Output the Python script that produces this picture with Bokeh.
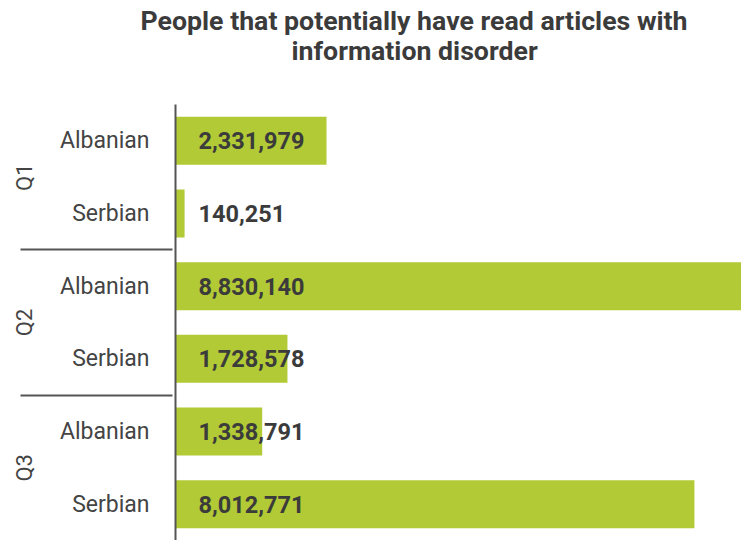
from bokeh.plotting import figure
from bokeh.models import FactorRange, Range1d, ColumnDataSource, Title
from bokeh.core.properties import value
from bokeh.embed import file_html
from bokeh.resources import INLINE

quarters = ["Q1", "Q1", "Q2", "Q2", "Q3", "Q3"]
languages = ["Albanian", "Serbian", "Albanian", "Serbian", "Albanian", "Serbian"]
people = [2331979, 140251, 8830140, 1728578, 1338791, 8012771]
title_lines = ["People that potentially have read articles with", "information disorder"]

TEXT = "#444444"
BAR = "#b1ca36"
LINE = "#555555"

factors = list(zip(quarters, languages))
labels = [f"{v:,}" for v in people]
src = ColumnDataSource(dict(y=factors, v=people, lab=labels, zero=[0] * len(people)))

yr = FactorRange(*reversed(factors), range_padding=0, group_padding=0, factor_padding=0)
p = figure(width=741, height=540, y_range=yr, x_range=Range1d(0, 8.74e6),
           output_backend="svg", toolbar_location=None,
           min_border_top=104, min_border_bottom=0, min_border_right=0, min_border_left=175)
p.title = None
p.hbar(y="y", right="v", left=0, height=0.66, source=src, color=BAR, line_color=None)
p.text(x="zero", y="y", text="lab", source=src, x_offset=23, text_align="left",
       text_baseline="middle", text_font=value("Roboto"), text_font_style="bold",
       text_font_size="23.5px", text_color="#3b3b3b")

p.xaxis.visible = False
p.xgrid.visible = False
p.ygrid.visible = False
p.outline_line_color = None

ax = p.yaxis[0]
ax.major_label_text_font = "Roboto"
ax.major_label_text_font_size = "23px"
ax.major_label_text_color = TEXT
ax.major_label_standoff = 20
ax.group_text_font = "Roboto"
ax.group_text_font_size = "22px"
ax.group_text_color = TEXT
ax.group_text_font_style = "normal"
ax.group_label_orientation = "parallel"
ax.major_tick_line_color = None
ax.minor_tick_line_color = None
ax.axis_line_color = LINE
ax.axis_line_width = 2
ax.separator_line_color = LINE
ax.separator_line_width = 2

TSTYLE = dict(text_font="Roboto", text_font_style="bold", text_font_size="26.7px",
              text_color="#3b3b3b")
# spacer nearest the frame, then line 2, then line 1
p.add_layout(Title(text=" ", align="left", standoff=8, **TSTYLE), "above")
p.add_layout(Title(text=title_lines[1], align="left", offset=116, standoff=-8, **TSTYLE), "above")
p.add_layout(Title(text=title_lines[0], align="left", offset=-35, standoff=0, **TSTYLE), "above")

open("out.html", "w").write(file_html(p, INLINE))
